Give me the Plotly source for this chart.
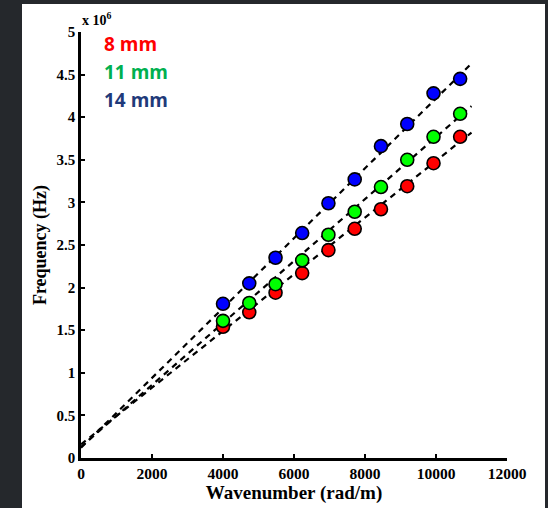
import plotly.graph_objects as go

# ---- data ----
wavenumber = [4000, 4740, 5480, 6230, 6970, 7710, 8450, 9190, 9930, 10680]
freq_8mm = [1.54, 1.71, 1.94, 2.17, 2.44, 2.69, 2.92, 3.19, 3.46, 3.77]
freq_11mm = [1.61, 1.82, 2.04, 2.32, 2.62, 2.89, 3.18, 3.50, 3.77, 4.04]
freq_14mm = [1.81, 2.05, 2.35, 2.64, 2.99, 3.27, 3.66, 3.92, 4.28, 4.45]

fit_x = [0, 11000]
fit_8mm = [0.16, 3.82]
fit_11mm = [0.13, 4.13]
fit_14mm = [0.12, 4.63]

series_names = ["8 mm", "11 mm", "14 mm"]
marker_colors = ["#FF0000", "#00FF00", "#0000FF"]
label_colors = ["#FF0000", "#00B050", "#1F3A7A"]

x_ticks = [0, 2000, 4000, 6000, 8000, 10000, 12000]
x_ticktext = ["0", "2000", "4000", "6000", "8000", "10000", "12000"]
y_ticks = [0, 0.5, 1, 1.5, 2, 2.5, 3, 3.5, 4, 4.5, 5]
y_ticktext = ["0", "0.5", "1", "1.5", "2", "2.5", "3", "3.5", "4", "4.5", "5"]

fig = go.Figure()

for fy in [fit_8mm, fit_11mm, fit_14mm]:
    fig.add_trace(go.Scatter(
        x=fit_x, y=fy, mode="lines",
        line=dict(color="black", width=2.2, dash="6px,5px"),
        showlegend=False, hoverinfo="skip"))

for ys, c, n in zip([freq_8mm, freq_11mm, freq_14mm], marker_colors, series_names):
    fig.add_trace(go.Scatter(
        x=wavenumber, y=ys, mode="markers", name=n,
        marker=dict(color=c, size=13, line=dict(color="black", width=1.6)),
        showlegend=False))

serif = "Liberation Serif"
W = 426.0
fig.update_layout(
    width=548, height=508,
    margin=dict(l=81, r=41, t=32, b=50, autoexpand=False),
    paper_bgcolor="#25282C",
    plot_bgcolor="white",
    showlegend=False,
    shapes=[dict(type="rect", xref="paper", yref="paper",
                 x0=(22 - 81) / W, x1=(545 - 81) / W, y0=-50 / W, y1=(508 - 4 - 50) / W,
                 fillcolor="white", line=dict(width=0), layer="below")],
    xaxis=dict(range=[0, 12000], tickvals=x_ticks, ticktext=x_ticktext, ticks="inside",
               ticklen=4, tickwidth=2, tickcolor="black", showline=True, linewidth=2.5,
               linecolor="black", showgrid=False, zeroline=False,
               tickfont=dict(family=serif, size=15.5, color="black", weight="bold"),
               title=dict(text="Wavenumber (rad/m)", standoff=2,
                          font=dict(family=serif, size=19, color="black", weight="bold"))),
    yaxis=dict(range=[0, 5], tickvals=y_ticks, ticktext=y_ticktext, ticks="inside",
               ticklen=4, tickwidth=2, tickcolor="black", showline=True, linewidth=2.5,
               linecolor="black", showgrid=False, zeroline=False,
               tickfont=dict(family=serif, size=15, color="black", weight="bold"),
               title=dict(text="Frequency (Hz)", standoff=6,
                          font=dict(family=serif, size=18, color="black", weight="bold"))),
)

fig.add_annotation(xref="paper", yref="paper", x=0, y=1, xanchor="left", yanchor="bottom",
                   xshift=-1, yshift=2, showarrow=False,
                   text="x 10<sup>6</sup>",
                   font=dict(family=serif, size=14, color="black", weight="bold"))

for i, (n, c) in enumerate(zip(series_names, label_colors)):
    fig.add_annotation(xref="paper", yref="paper", x=(102 - 81) / W, y=1,
                       xanchor="left", yanchor="middle", yshift=-(12 + 28 * i),
                       showarrow=False, text=n,
                       font=dict(family="Open Sans", size=19, color=c, weight="bold"))

fig.write_html(
    "out.html",
    config={"displayModeBar": False},
    post_script="document.body.style.margin='0';document.body.style.background='#25282C';",
)
